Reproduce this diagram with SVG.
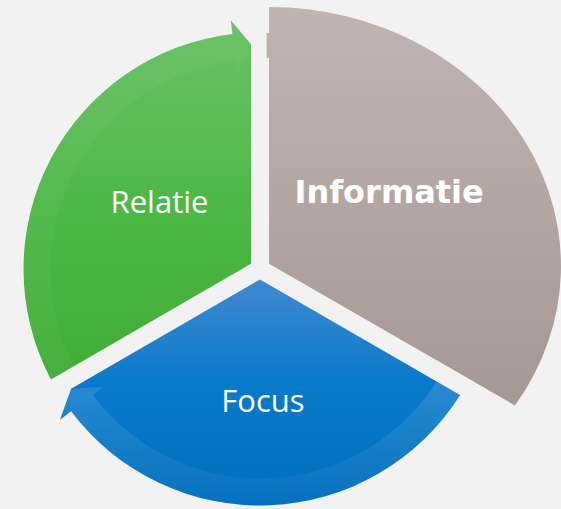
<svg xmlns="http://www.w3.org/2000/svg" width="561" height="509" viewBox="0 0 561 509">
  <defs>
    <style>
      .label { fill: #ffffff; font-family: "Open Sans", "Noto Sans", "DejaVu Sans", sans-serif; font-size: 31px; text-anchor: middle; }
      .label-bold { fill: #ffffff; font-family: "DejaVu Sans", Verdana, sans-serif; font-size: 32px; font-weight: bold; }
      .band { fill: #ffffff; }
    </style>
    <linearGradient id="gGreen" gradientUnits="userSpaceOnUse" x1="0" y1="20" x2="0" y2="380">
      <stop offset="0" stop-color="#68c166"/>
      <stop offset="0.55" stop-color="#4cb844"/>
      <stop offset="1" stop-color="#41ad37"/>
    </linearGradient>
    <linearGradient id="gBlue" gradientUnits="userSpaceOnUse" x1="0" y1="279" x2="0" y2="506">
      <stop offset="0" stop-color="#4189d0"/>
      <stop offset="0.45" stop-color="#0a7acb"/>
      <stop offset="1" stop-color="#006ebd"/>
    </linearGradient>
    <linearGradient id="gBrown" gradientUnits="userSpaceOnUse" x1="0" y1="7" x2="0" y2="405">
      <stop offset="0" stop-color="#c0b4b0"/>
      <stop offset="1" stop-color="#a69895"/>
    </linearGradient>
    <linearGradient id="gBlueBand" gradientUnits="userSpaceOnUse" x1="0" y1="340" x2="0" y2="506">
      <stop offset="0" stop-color="#ffffff" stop-opacity="0.16"/>
      <stop offset="1" stop-color="#ffffff" stop-opacity="0.02"/>
    </linearGradient>
    <clipPath id="clipGreen">
      <path d="M251,263.8 L50.9,379.4 A236.5,236.5 0 0 1 232.4,34.1 L230.8,20.2 L251,44.3 Z"/>
    </clipPath>
    <clipPath id="clipBlue">
      <path d="M260,279.4 L460.1,395 A236.5,236.5 0 0 1 71.1,411.3 L60,419.8 L71.1,388.8 Z"/>
    </clipPath>
  </defs>

  <!-- page -->
  <rect x="0" y="0" width="561" height="509" fill="#f2f2f2"/>

  <!-- Informatie segment (enlarged) -->
  <g id="informatie">
    <path d="M269,263.8 L269,7 A292,259 0 0 1 515,405.5 Z" fill="url(#gBrown)"/>
    <rect x="266.6" y="33" width="3" height="25" fill="#bdb1ad"/>
    <text class="label-bold" x="294.5" y="203">Informatie</text>
  </g>

  <!-- Relatie segment -->
  <g id="relatie">
    <path d="M251,263.8 L50.9,379.4 A236.5,236.5 0 0 1 232.4,34.1 L230.8,20.2 L251,44.3 Z" fill="url(#gGreen)"/>
    <text class="label" x="159.5" y="213">Relatie</text>
  </g>

  <!-- Focus segment -->
  <g id="focus">
    <path d="M260,279.4 L460.1,395 A236.5,236.5 0 0 1 71.1,411.3 L60,419.8 L71.1,388.8 Z" fill="url(#gBlue)"/>
    <text class="label" x="263" y="411.5">Focus</text>
  </g>

  <!-- circular arrow bands along the rim -->
  <g id="connectors">
    <path clip-path="url(#clipGreen)" class="band" fill-opacity="0.035"
          d="M78.8,421 A236.5,236.5 0 0 1 232.4,34.1 L230.8,20.2 L251.9,45.4 L237.2,74.8 L235.6,60.9 A209.5,209.5 0 0 0 99.5,403.7 Z"/>
    <path clip-path="url(#clipBlue)" fill="url(#gBlueBand)"
          d="M482.2,349.9 A236.5,236.5 0 0 1 71.1,411.3 L60,419.8 L71.1,388.8 L103.9,386.7 L92.7,395.1 A209.5,209.5 0 0 0 456.9,340.7 Z"/>
  </g>
</svg>
